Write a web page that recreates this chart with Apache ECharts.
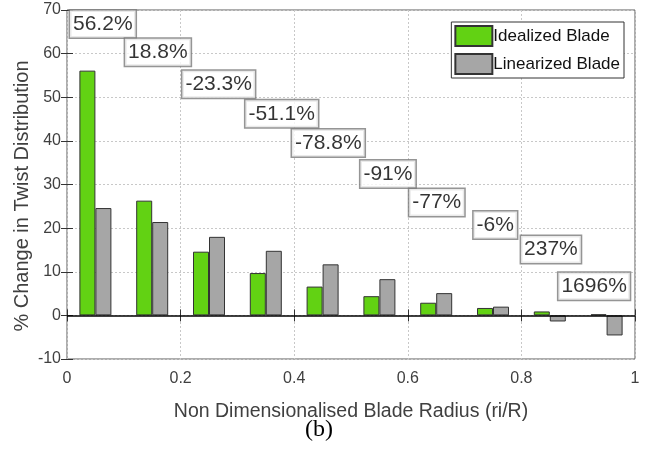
<!DOCTYPE html>
<html>
<head>
<meta charset="utf-8">
<script src="https://cdn.jsdelivr.net/npm/echarts@6/dist/echarts.min.js"></script>
<style>
  html, body { margin: 0; padding: 0; background: #fff; }
  #chart { width: 646px; height: 454px; }
</style>
</head>
<body>
<div id="chart"></div>
<script>
// radius stations (bar centres)
var radius = [0.05, 0.15, 0.25, 0.35, 0.45, 0.55, 0.65, 0.75, 0.85, 0.95];
var idealized = [56.1, 26.3, 14.6, 9.7, 6.6, 4.4, 2.9, 1.7, 0.9, 0.25];
var linearized = [24.6, 21.4, 18.0, 14.8, 11.7, 8.3, 5.1, 2.0, -1.4, -4.6];
// percentage difference boxes
var diffLabels = ['56.2%', '18.8%', '-23.3%', '-51.1%', '-78.8%', '-91%', '-77%', '-6%', '237%', '1696%'];
var labelX = [0.063, 0.160, 0.267, 0.378, 0.460, 0.565, 0.651, 0.754, 0.852, 0.928];
var labelY = [66.8, 60.3, 53.0, 46.2, 39.5, 32.4, 25.9, 20.7, 15.1, 6.7];

var sans = '"Liberation Sans", Arial, sans-serif';
var txt = '#404040';

var chart = echarts.init(document.getElementById('chart'));

var pair = function (ys) {
    return radius.map(function (x, i) { return [x, ys[i]]; });
};

var option = {
    animation: false,
    textStyle: { fontFamily: sans },
    grid: {
        left: 67, right: 11, top: 10, bottom: 95,
        show: true, borderColor: '#5a5a5a', borderWidth: 1, backgroundColor: '#fff'
    },
    legend: {
        orient: 'vertical',
        right: 22, top: 22,
        backgroundColor: '#fff',
        borderColor: '#333', borderWidth: 1,
        padding: [3, 4, 3, 3],
        itemWidth: 37, itemHeight: 20, itemGap: 6,
        icon: 'rect',
        textStyle: { fontFamily: sans, fontSize: 17, color: '#111', padding: [0, 0, 0, -4] },
        data: ['Idealized Blade', 'Linearized Blade']
    },
    xAxis: [{
        type: 'value', min: 0, max: 1, interval: 0.2,
        name: 'Non Dimensionalised Blade Radius (ri/R)',
        nameLocation: 'middle', nameGap: 43,
        nameTextStyle: { fontFamily: sans, fontSize: 19.5, color: txt },
        axisLine: { show: false },
        axisTick: { show: true, inside: true, length: 6, lineStyle: { color: '#333' } },
        axisLabel: { fontFamily: sans, fontSize: 16, color: txt, margin: 12,
            formatter: function (v) { return String(+v.toFixed(1)); } },
        splitLine: { show: true, lineStyle: { color: '#c8c8c8', type: [2, 2], width: 1 } }
    }, {
        type: 'value', min: 0, max: 1, interval: 0.2, position: 'top',
        axisLine: { show: false },
        axisTick: { show: true, inside: true, length: 6, lineStyle: { color: '#333' } },
        axisLabel: { show: false },
        splitLine: { show: false }
    }],
    yAxis: [{
        type: 'value', min: -10, max: 70, interval: 10,
        name: '% Change in Twist Distribution',
        nameLocation: 'middle', nameGap: 35, nameRotate: 90,
        nameMoveOverlap: false,
        nameTextStyle: { fontFamily: sans, fontSize: 20, color: txt, padding: [0, 23, 0, 0] },
        axisLine: { show: false },
        axisTick: { show: true, inside: true, length: 6, lineStyle: { color: '#333' } },
        axisLabel: { fontFamily: sans, fontSize: 16, color: txt, margin: 6 },
        splitLine: { show: true, lineStyle: { color: '#c8c8c8', type: [2, 2], width: 1 } }
    }, {
        type: 'value', min: -10, max: 70, interval: 10, position: 'right',
        axisLine: { show: false },
        axisTick: { show: true, inside: true, length: 6, lineStyle: { color: '#333' } },
        axisLabel: { show: false },
        splitLine: { show: false }
    }],
    series: [{
        name: 'Idealized Blade',
        type: 'bar',
        data: pair(idealized),
        barWidth: 16, barGap: '0%',
        itemStyle: { color: '#62d213', borderColor: '#333', borderWidth: 1 },
        markLine: {
            silent: true, symbol: 'none',
            label: { show: false },
            lineStyle: { color: '#000', width: 1.5, type: 'solid' },
            data: [{ yAxis: 0 }]
        }
    }, {
        name: 'Linearized Blade',
        type: 'bar',
        data: pair(linearized),
        barWidth: 16, barGap: '0%',
        itemStyle: { color: '#a6a6a6', borderColor: '#333', borderWidth: 1 }
    }, {
        type: 'scatter',
        symbolSize: 0,
        silent: true,
        z: 10,
        data: labelX.map(function (x, i) { return [x, labelY[i], diffLabels[i]]; }),
        label: {
            show: true, position: 'inside',
            formatter: function (p) { return p.value[2]; },
            fontFamily: sans, fontSize: 21, lineHeight: 20, color: '#000',
            backgroundColor: '#fff', borderColor: '#7a7a7a', borderWidth: 1.5,
            padding: [4, 3, 3, 3]
        }
    }],
    graphic: [{
        type: 'text', left: 305, top: 418,
        style: { text: '(b)', font: '24px "Liberation Serif", "Times New Roman", serif', fill: '#000' }
    }]
};

chart.setOption(option);
window.addEventListener('resize', chart.resize);
</script>
</body>
</html>
